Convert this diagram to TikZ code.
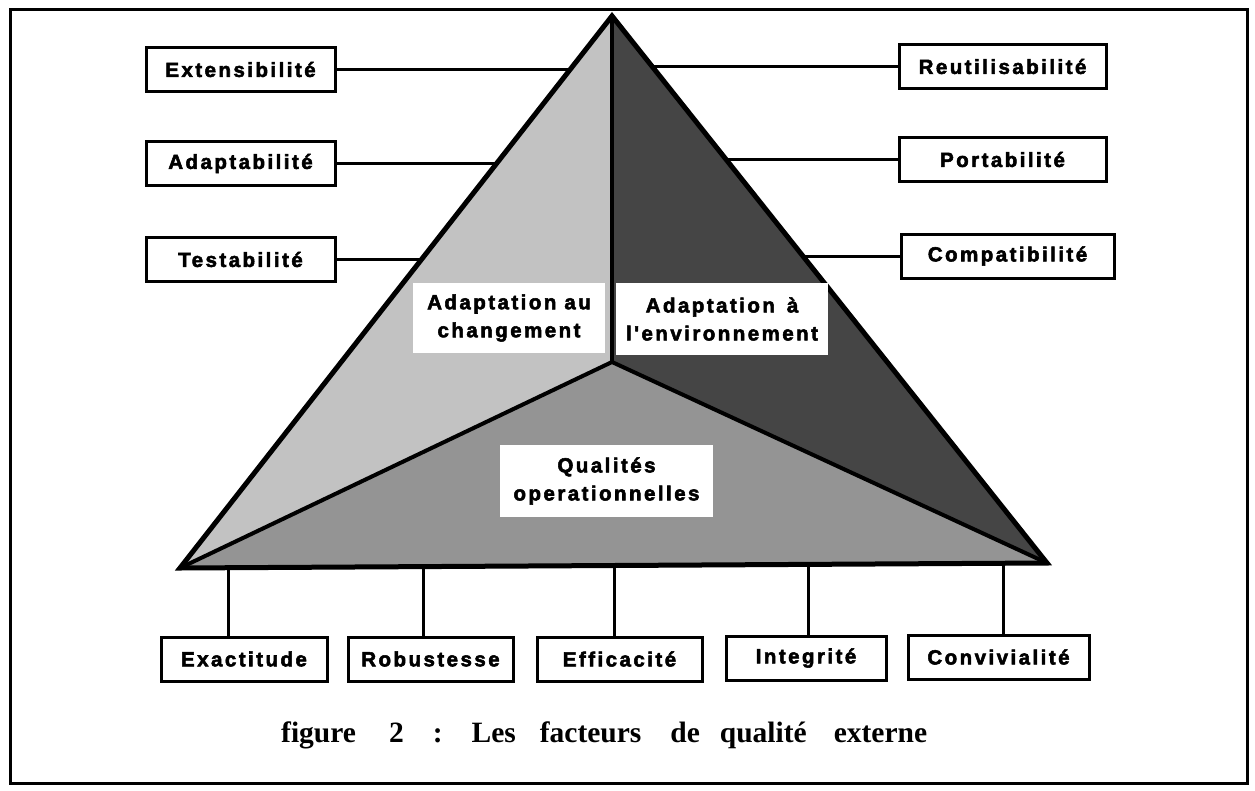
\documentclass[tikz,border=0pt]{standalone}
\usepackage{fontspec}
\setmainfont{Liberation Serif}
\newfontfamily\boxfont[LetterSpace=12,FakeBold=2.6]{Liberation Sans Bold}
\definecolor{lightface}{gray}{0.76}
\definecolor{midface}{gray}{0.58}
\definecolor{darkface}{gray}{0.27}
\begin{document}
\begin{tikzpicture}[x=1pt,y=-1pt,
  lbl/.style={draw=black, line width=3pt, fill=white, minimum height=44pt, inner sep=0pt,
    font=\boxfont\fontsize{20.5}{22}\selectfont},
  mid/.style={fill=white, inner sep=0pt, align=center,
    font=\boxfont\fontsize{20.5}{28}\selectfont},
  conn/.style={line width=3pt},
  outer/.style={line width=5pt, line join=miter},
  inner/.style={line width=4pt, line join=round}]
\useasboundingbox (0,0) rectangle (1255,790);
\draw[line width=3pt] (10,9) rectangle (1247,783);

\coordinate (apex) at (612,16);
\coordinate (bl) at (180,568);
\coordinate (br) at (1047,563);
\coordinate (ctr) at (612,362);

% side boxes
\node[lbl, minimum width=189pt] (ext) at (240.5,69.5) {Extensibilité};
\node[lbl, minimum width=189pt] (adapt) at (240.5,163.5) {Adaptabilité};
\node[lbl, minimum width=189pt] (test) at (240.5,259.5) {Testabilité};
\node[lbl, minimum width=207pt] (reut) at (1002.5,66.5) {Reutilisabilité};
\node[lbl, minimum width=207pt] (port) at (1002.5,159.5) {Portabilité};
\node[lbl, minimum width=213pt] (compat) at (1007.5,256) {Compatibilité};
% bottom boxes
\node[lbl, minimum width=166pt] (exa) at (244,659) {Exactitude};
\node[lbl, minimum width=165pt] (rob) at (430.5,659) {Robustesse};
\node[lbl, minimum width=165pt] (eff) at (619.5,659) {Efficacité};
\node[lbl, minimum width=160pt] (integ) at (806,658) {Integrité};
\node[lbl, minimum width=181pt] (conv) at (998.5,657) {Convivialité};

% connectors (drawn under the pyramid)
\draw[conn] (ext.east) -- (ext.east -| apex);
\draw[conn] (adapt.east) -- (adapt.east -| apex);
\draw[conn] (test.east) -- (test.east -| apex);
\draw[conn] (reut.west) -- (reut.west -| apex);
\draw[conn] (port.west) -- (port.west -| apex);
\draw[conn] (compat.west) -- (compat.west -| apex);
\draw[conn] ([xshift=-16pt]exa.north) -- ([xshift=-16pt]exa.north |- bl);
\draw[conn] ([xshift=-7.5pt]rob.north) -- ([xshift=-7.5pt]rob.north |- bl);
\draw[conn] ([xshift=-5.5pt]eff.north) -- ([xshift=-5.5pt]eff.north |- bl);
\draw[conn] ([xshift=2pt]integ.north) -- ([xshift=2pt]integ.north |- br);
\draw[conn] ([xshift=4.5pt]conv.north) -- ([xshift=4.5pt]conv.north |- br);

% faces
\fill[lightface] (apex) -- (bl) -- (ctr) -- cycle;
\fill[darkface] (apex) -- (ctr) -- (br) -- cycle;
\fill[midface] (bl) -- (ctr) -- (br) -- cycle;
% edges
\draw[inner] (apex) -- (ctr);
\draw[inner] (bl) -- (ctr) -- (br);
\draw[outer] (bl) -- (apex) -- (br) -- cycle;

% face labels
\node[mid, minimum width=192pt, minimum height=70pt] (adch) at (509,318) {Adaptation\hspace{8pt}au\\changement};
\node[mid, minimum width=212pt, minimum height=72pt] (adenv) at (722,319) {Adaptation\hspace{12pt}à\\l'environnement};
\node[mid, minimum width=213pt, minimum height=72pt] (qual) at (606.5,481) {Qualités\\operationnelles};

% caption
\node[anchor=base west, inner sep=0pt, font=\bfseries\fontsize{29.5}{34}\selectfont] (cap) at (281,742)
  {figure\hspace{33pt}2\hspace{29pt}:\hspace{29pt}Les\hspace{24pt}facteurs\hspace{29pt}de\hspace{20pt}qualité\hspace{27pt}externe};
\end{tikzpicture}
\end{document}
